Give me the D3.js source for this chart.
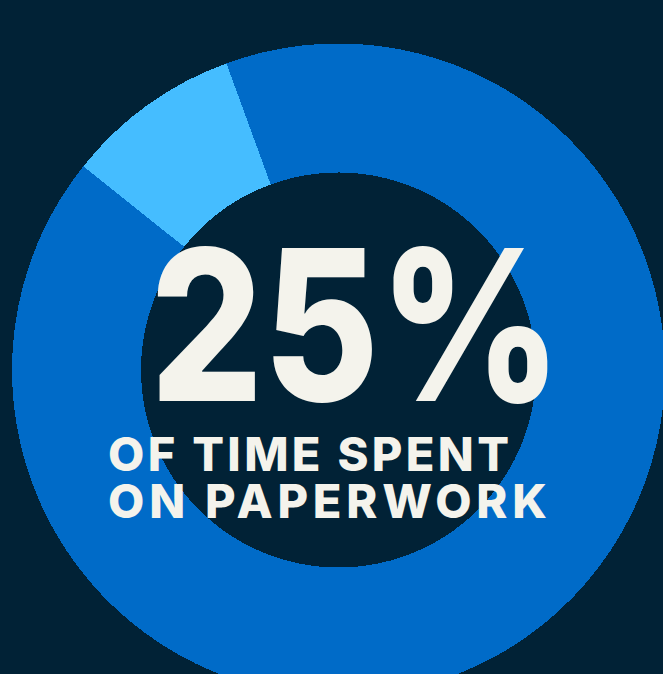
<!DOCTYPE html>
<html>
<head>
<meta charset="utf-8">
<script src="https://cdn.jsdelivr.net/npm/d3@7"></script>
<style>
  html, body { margin: 0; padding: 0; background: #012236; }
  svg { display: block; }
</style>
</head>
<body>
<div id="chart"></div>
<script>
// ---- Data ----
const categories = ["Paperwork", "Other"];
const shares = [8.7, 91.3];            // share of ring
const headline = "25%";
const captionLines = ["OF TIME SPENT", "ON PAPERWORK"];

// ---- Layout / style ----
const W = 663, H = 674;
const cx = 338.5, cy = 370;
const outerR = 326.5, innerR = 197.5;
const startDeg = -51.4;
const colors = { Paperwork: "#45bdff", Other: "#006bc8" };
const bg = "#012236", textColor = "#f4f3ec";

const svg = d3.select("#chart").append("svg")
  .attr("width", W).attr("height", H);

svg.append("rect").attr("width", W).attr("height", H).attr("fill", bg);

const data = categories.map((c, i) => ({ category: c, value: shares[i] }));
const start = startDeg * Math.PI / 180;
const pie = d3.pie().sort(null).value(d => d.value)
  .startAngle(start).endAngle(start + 2 * Math.PI);
const arc = d3.arc().innerRadius(innerR).outerRadius(outerR);

const g = svg.append("g").attr("transform", `translate(${cx},${cy})`);
g.selectAll("path").data(pie(data)).join("path")
  .attr("d", arc)
  .attr("fill", d => colors[d.data.category])
  .attr("shape-rendering", "crispEdges");

const font = "Inter, Lato, 'DejaVu Sans', sans-serif";

svg.append("text")
  .attr("x", 150).attr("y", 401)
  .attr("font-family", font)
  .attr("font-weight", 800)
  .attr("font-size", 210)
  .attr("fill", textColor)
  .attr("textLength", 412)
  .attr("lengthAdjust", "spacingAndGlyphs")
  .text(headline);

const capW = [401, 439];
const capY = [470.5, 517.5];
svg.selectAll("text.cap").data(captionLines).join("text")
  .attr("class", "cap")
  .attr("x", 108)
  .attr("y", (d, i) => capY[i])
  .attr("font-family", font)
  .attr("font-weight", 800)
  .attr("font-size", 47)
  .attr("fill", textColor)
  .attr("textLength", (d, i) => capW[i])
  .attr("lengthAdjust", "spacing")
  .text(d => d);
</script>
</body>
</html>
